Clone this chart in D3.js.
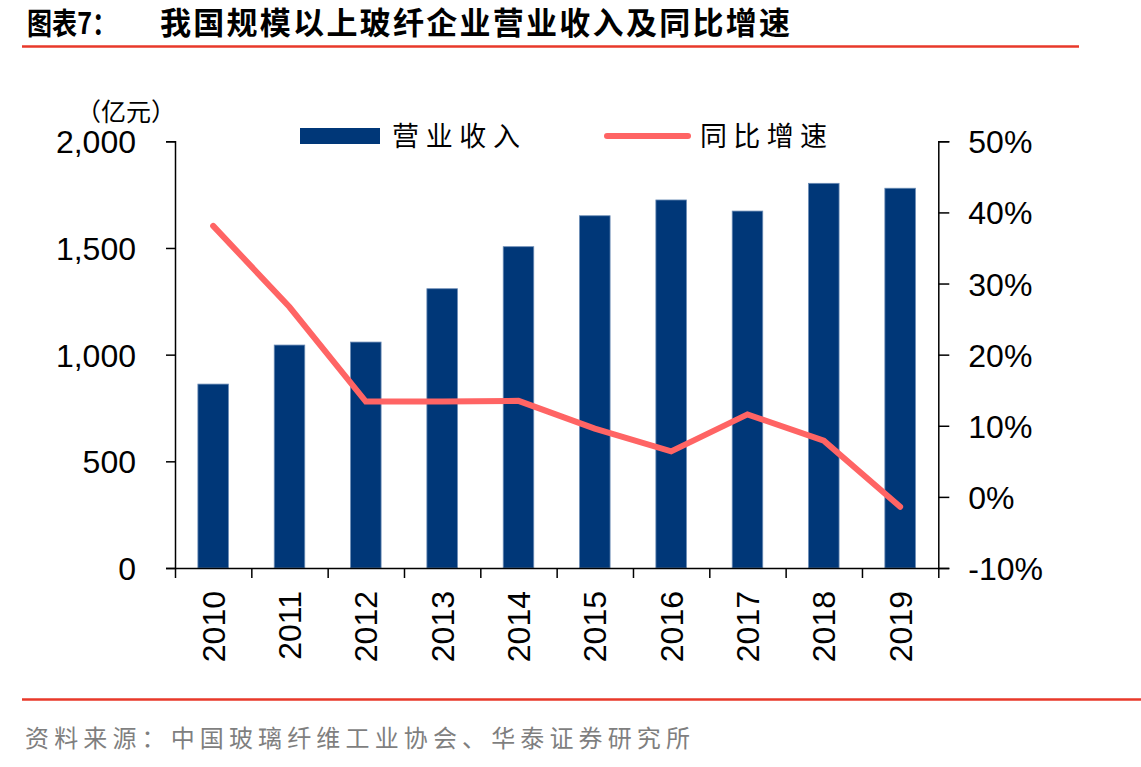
<!DOCTYPE html>
<html>
<head>
<meta charset="utf-8">
<script src="https://cdn.jsdelivr.net/npm/d3@7"></script>
<style>
  body { margin: 0; background: #fff; }
  svg { display: block; }
  .axis text { font-family: "Liberation Sans", Arial, sans-serif; font-size: 32px; fill: #000; }
  .axis path, .axis line { stroke: #000; stroke-width: 1.5px; }
</style>
</head>
<body>
<div id="chart-area"></div>
<script>
// data
var years = ["2010","2011","2012","2013","2014","2015","2016","2017","2018","2019"];
var revenue = [862, 1045, 1059, 1309, 1506, 1651, 1725, 1673, 1803, 1780];   // 亿元
var growth = [38.1, 26.7, 13.4, 13.4, 13.5, 9.6, 6.4, 11.6, 7.9, -1.4];     // %
var leftTicks = [0, 500, 1000, 1500, 2000];
var rightTicks = [-10, 0, 10, 20, 30, 40, 50];

var W = 1141, H = 767;
var margin = { left: 175, right: 1141 - 938.3, top: 141.3, bottom: 767 - 568 },
    width = W - margin.left - margin.right,
    height = H - margin.top - margin.bottom;

var svg = d3.select("#chart-area")
    .append("svg")
    .attr("width", W)
    .attr("height", H);

// title + rules
var cjk = '"Noto Sans CJK SC", "Noto Sans", sans-serif';
svg.append("text")
    .attr("x", 27).attr("y", 34)
    .attr("font-family", cjk).attr("font-weight", "bold").attr("font-size", "30px")
    .attr("textLength", 90).attr("lengthAdjust", "spacingAndGlyphs")
    .text("图表7：");
svg.append("text")
    .attr("x", 160).attr("y", 34)
    .attr("font-family", cjk).attr("font-weight", "bold").attr("font-size", "31px")
    .attr("textLength", 630).attr("lengthAdjust", "spacing")
    .text("我国规模以上玻纤企业营业收入及同比增速");
svg.append("line")
    .attr("x1", 22).attr("x2", 1079).attr("y1", 46.5).attr("y2", 46.5)
    .attr("stroke", "#e8392a").attr("stroke-width", 2.5);
svg.append("line")
    .attr("x1", 22).attr("x2", 1141).attr("y1", 699.5).attr("y2", 699.5)
    .attr("stroke", "#e8392a").attr("stroke-width", 2.5);
svg.append("text")
    .attr("x", 25).attr("y", 747)
    .attr("font-family", cjk).attr("font-size", "24px").attr("fill", "#7f7f7f")
    .attr("textLength", 665).attr("lengthAdjust", "spacing")
    .text("资料来源：中国玻璃纤维工业协会、华泰证券研究所");

var g = svg.append("g")
    .attr("transform", "translate(" + margin.left + "," + margin.top + ")");

// Scales
var x = d3.scaleBand().domain(years).range([0, width])
    .paddingInner(0.6).paddingOuter(0.3);
var xEdge = d3.scaleLinear().domain([0, years.length]).range([0, width]);
var yL = d3.scaleLinear().domain([0, 2000]).range([height, 0]);
var yR = d3.scaleLinear().domain([-10, 50]).range([height, 0]);

// bars
g.selectAll("rect.bar").data(revenue)
    .enter().append("rect")
    .attr("class", "bar")
    .attr("x", function(d, i){ return x(years[i]); })
    .attr("y", function(d){ return yL(d); })
    .attr("width", x.bandwidth())
    .attr("height", function(d){ return height - yL(d); })
    .attr("fill", "#003778")
    .attr("stroke", "#6a8bb5")
    .attr("stroke-width", 0.8);

// line
var line = d3.line()
    .x(function(d, i){ return x(years[i]) + x.bandwidth() / 2; })
    .y(function(d){ return yR(d); });
g.append("path")
    .attr("d", line(growth))
    .attr("fill", "none")
    .attr("stroke", "#ff6464")
    .attr("stroke-width", 6)
    .attr("stroke-linejoin", "miter")
    .attr("stroke-linecap", "round");

// Axes
var yAxisL = g.append("g").attr("class", "axis")
    .call(d3.axisLeft(yL).tickValues(leftTicks).tickSize(9).tickPadding(30)
        .tickSizeOuter(9).tickFormat(d3.format(",")));
yAxisL.selectAll("text").attr("dy", "0.36em");

var yAxisR = g.append("g").attr("class", "axis")
    .attr("transform", "translate(" + width + ",0)")
    .call(d3.axisRight(yR).tickValues(rightTicks).tickSize(11).tickPadding(19)
        .tickSizeOuter(11).tickFormat(function(d){ return d + "%"; }));
yAxisR.selectAll("text").attr("dy", "0.36em");

// x tick marks on band edges
g.append("g").attr("class", "axis")
    .attr("transform", "translate(0," + height + ")")
    .call(d3.axisBottom(xEdge).tickValues(d3.range(0, years.length + 1))
        .tickSize(10).tickSizeOuter(0).tickFormat(""));

// x labels
var xLab = g.append("g").attr("class", "axis")
    .attr("transform", "translate(0," + height + ")")
    .call(d3.axisBottom(x).tickSize(0).tickSizeOuter(0));
xLab.select(".domain").remove();
xLab.selectAll("text")
    .attr("transform", "rotate(-90)")
    .attr("text-anchor", "end")
    .attr("x", -23)
    .attr("y", 0)
    .attr("dy", "0.36em");

// unit label
svg.append("text")
    .attr("x", 76).attr("y", 121)
    .attr("font-family", cjk).attr("font-size", "25px")
    .text("（亿元）");

// legend
svg.append("rect")
    .attr("x", 300).attr("y", 128).attr("width", 80).attr("height", 16)
    .attr("fill", "#003778");
svg.append("text")
    .attr("x", 392).attr("y", 146)
    .attr("font-family", cjk).attr("font-size", "27px")
    .attr("textLength", 128).attr("lengthAdjust", "spacing")
    .text("营业收入");
svg.append("line")
    .attr("x1", 607).attr("x2", 688).attr("y1", 136).attr("y2", 136)
    .attr("stroke", "#ff6464").attr("stroke-width", 6).attr("stroke-linecap", "round");
svg.append("text")
    .attr("x", 700).attr("y", 146)
    .attr("font-family", cjk).attr("font-size", "27px")
    .attr("textLength", 127).attr("lengthAdjust", "spacing")
    .text("同比增速");
</script>
</body>
</html>
